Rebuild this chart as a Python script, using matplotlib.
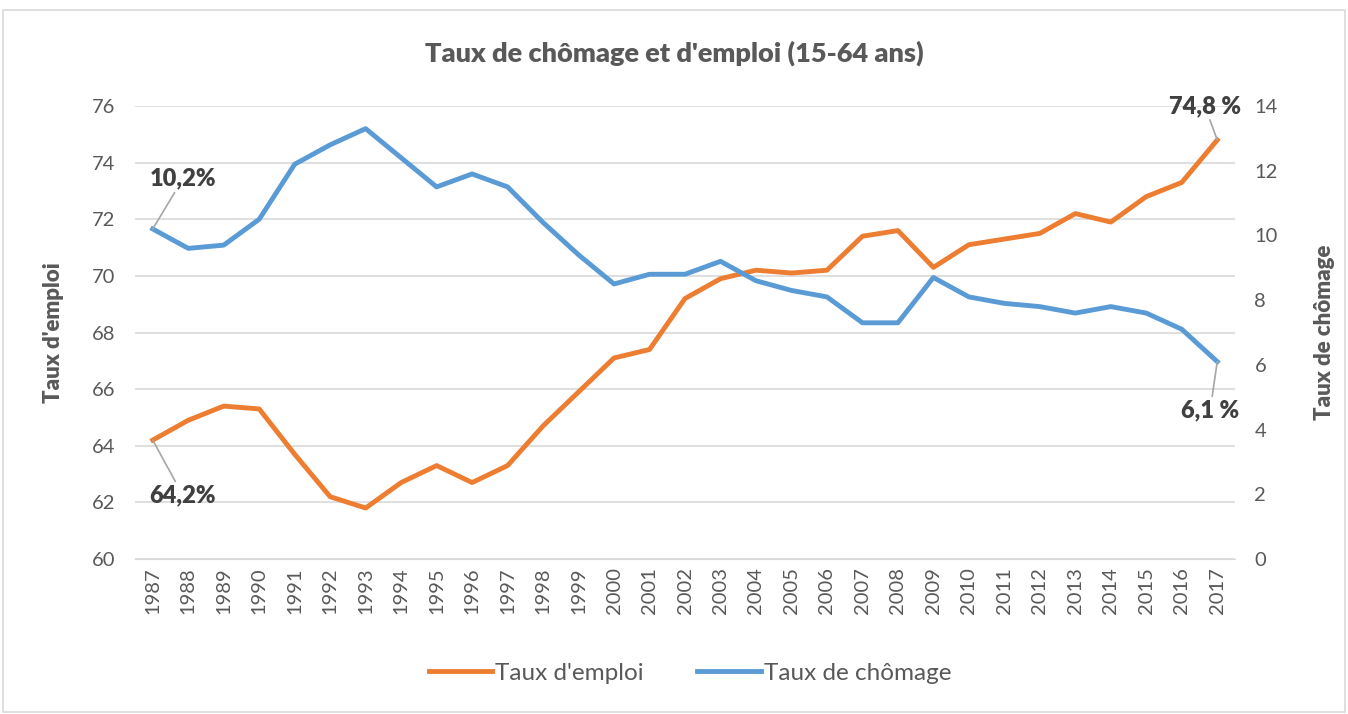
import matplotlib
matplotlib.use("Agg")
import matplotlib.pyplot as plt
from matplotlib.patches import Rectangle

years = list(range(1987, 2018))
emploi = [64.2, 64.9, 65.4, 65.3, 63.7, 62.2, 61.8, 62.7, 63.3, 62.7, 63.3,
          64.7, 65.9, 67.1, 67.4, 69.2, 69.9, 70.2, 70.1, 70.2, 71.4, 71.6,
          70.3, 71.1, 71.3, 71.5, 72.2, 71.9, 72.8, 73.3, 74.8]
chomage = [10.2, 9.6, 9.7, 10.5, 12.2, 12.8, 13.3, 12.4, 11.5, 11.9, 11.5,
           10.4, 9.4, 8.5, 8.8, 8.8, 9.2, 8.6, 8.3, 8.1, 7.3, 7.3,
           8.7, 8.1, 7.9, 7.8, 7.6, 7.8, 7.6, 7.1, 6.1]
left_ticks = [60, 62, 64, 66, 68, 70, 72, 74, 76]
right_ticks = [0, 2, 4, 6, 8, 10, 12, 14]

plt.rcParams['font.family'] = ['Lato', 'DejaVu Sans']
TXT = '#595959'
ORANGE = '#ED7D31'
BLUE = '#5B9BD5'

W, H = 1348, 714
fig = plt.figure(figsize=(W / 100, H / 100), dpi=100)
fig.patches.append(Rectangle((3 / W, 2 / H), (W - 6) / W, (H - 12) / H,
                             transform=fig.transFigure, fill=False,
                             edgecolor='#d9d9d9', linewidth=1.2))

ax = fig.add_axes([135 / W, 1 - 559 / H, 1100 / W, (559 - 106) / H])
ax2 = ax.twinx()
x = list(range(len(years)))

ax.plot(x, emploi, color=ORANGE, linewidth=3.5, solid_joinstyle='round',
        label="Taux d'emploi", zorder=3)
ax2.plot(x, chomage, color=BLUE, linewidth=3.5, solid_joinstyle='round',
         label="Taux de chômage", zorder=3)

ax.set_xlim(-0.5, len(years) - 0.5)
ax.set_ylim(60, 76)
ax2.set_ylim(0, 14)
ax.set_yticks(left_ticks)
ax2.set_yticks(right_ticks)
ax.set_xticks(x)
ax.set_xticklabels([str(y) for y in years], rotation=90)
ax.grid(axis='y', color='#d9d9d9', linewidth=1.2)
ax.set_axisbelow(True)
for a in (ax, ax2):
    for s in a.spines.values():
        s.set_visible(False)
    a.tick_params(length=0, labelsize=14.5, colors=TXT)
ax.spines['bottom'].set_visible(True)
ax.spines['bottom'].set_color('#d9d9d9')
ax.tick_params(axis='y', pad=14)
ax2.tick_params(axis='y', pad=14)
ax.tick_params(axis='x', pad=6)

ax.set_ylabel("Taux d'emploi", fontsize=16, fontweight='heavy', color=TXT, labelpad=20)
ax2.set_ylabel("Taux de chômage", fontsize=16, fontweight='heavy', color=TXT,
               rotation=90, labelpad=26)

fig.text(0.5, 1 - 53 / H, "Taux de chômage et d'emploi (15-64 ans)", ha='center',
         va='center', fontsize=19.5, fontweight='heavy', color=TXT)

# annotations
kw = dict(fontsize=17, fontweight='heavy', color='#404040')
ap = dict(arrowstyle='-', color='#a6a6a6', linewidth=1.2, shrinkA=0, shrinkB=0)
ax2.annotate("10,2%", xy=(0, chomage[0]), xytext=(0.85, 11.75), ha='center', va='center',
             arrowprops=ap, **kw)
ax.annotate("64,2%", xy=(0, emploi[0]), xytext=(0.85, 62.25), ha='center', va='center',
            arrowprops=ap, **kw)
ax.annotate("74,8 %", xy=(30, emploi[-1]), xytext=(29.65, 76.0), ha='center', va='center',
            arrowprops=ap, **kw)
ax2.annotate("6,1 %", xy=(30, chomage[-1]), xytext=(29.8, 4.6), ha='center', va='center',
             arrowprops=ap, **kw)

h1, l1 = ax.get_legend_handles_labels()
h2, l2 = ax2.get_legend_handles_labels()
fig.legend(h1 + h2, l1 + l2, loc='center', bbox_to_anchor=(0.512, 1 - 673 / H),
           ncol=2, frameon=False, fontsize=17.5, labelcolor=TXT,
           handlelength=2.6, handletextpad=0.15, columnspacing=2.2)

fig.savefig("out.png", dpi=100)
